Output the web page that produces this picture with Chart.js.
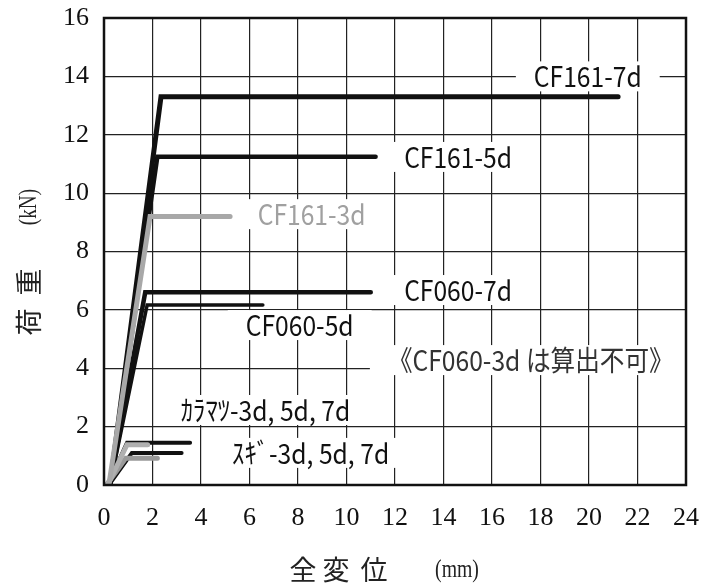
<!DOCTYPE html>
<html><head><meta charset="utf-8">
<script src="https://cdn.jsdelivr.net/npm/chart.js@4"></script>
<style>html,body{margin:0;padding:0;background:#fff}#wrap{width:702px;height:587px}</style>
</head><body><div id="wrap"><canvas id="c" width="702" height="587"></canvas></div>
<script>
// axis ticks
const xTicks = [0,2,4,6,8,10,12,14,16,18,20,22,24];
const yTicks = [0,2,4,6,8,10,12,14,16];
const xTitleParts = ['全','変','位','(mm)'];
const yTitleParts = ['荷','重','(kN)'];
// series: displacement (mm) / load (kN)
const cf161_7d_x = [0.25, 2.35, 21.2]; const cf161_7d_y = [0, 13.3, 13.3];
const cf161_5d_x = [0.25, 2.2, 11.2];  const cf161_5d_y = [0, 11.25, 11.25];
const cf161_3d_x = [0.2, 1.9, 5.2];    const cf161_3d_y = [0, 9.2, 9.2];
const cf060_7d_x = [0.25, 1.7, 11.0];  const cf060_7d_y = [0, 6.6, 6.6];
const cf060_5d_x = [0.25, 1.78, 6.55]; const cf060_5d_y = [0, 6.17, 6.17];
const larch_x = [0.15, 0.95, 3.55];    const larch_y = [0, 1.45, 1.45];
const larchG_x = [0.15, 0.95, 1.8];    const larchG_y = [0, 1.38, 1.38];
const sugi_x = [0.2, 1.15, 3.2];       const sugi_y = [0, 1.1, 1.1];
const sugiG_x = [0.1, 0.9, 2.2];       const sugiG_y = [0, 0.92, 0.92];
// annotation labels
const labelText = ["CF161-7d","CF161-5d","CF161-3d","CF060-7d","CF060-5d","《CF060-3d は算出不可》","ｶﾗﾏﾂ-3d, 5d, 7d","ｽｷﾞ-3d, 5d, 7d"];
const labelX = [19.95, 14.6, 8.56, 14.6, 8.07, 17.6, 6.66, 8.52];
const labelY = [14.0, 11.24, 9.28, 6.68, 5.48, 4.28, 2.57, 1.1];
const labelGrey = [false,false,true,false,false,false,false,false];

function pts(xs, ys){ return xs.map((x,i)=>({x:x, y:ys[i]})); }
function ds(xs, ys, color, w){ return {data:pts(xs,ys), showLine:true, borderColor:color, backgroundColor:color, borderWidth:w, pointRadius:0, borderCapStyle:'round', borderJoinStyle:'miter', tension:0}; }

const SX = 0.88;
const labelFont = '28px "Noto Sans CJK JP", sans-serif';
const cjkFont = '27px "Noto Sans CJK JP", sans-serif';
const latFont = '26px "Liberation Serif", serif';
const labelPlugin = {
  id:'labels',
  beforeDatasetsDraw(chart){
    const ctx = chart.ctx, xs = chart.scales.x, ys = chart.scales.y;
    ctx.save();
    ctx.font = labelFont;
    labelText.forEach((t,i)=>{
      const px = xs.getPixelForValue(labelX[i]), py = ys.getPixelForValue(labelY[i]);
      const w = ctx.measureText(t).width * SX;
      ctx.fillStyle='#fff';
      ctx.fillRect(px - w/2 - 18, py - 15, w + 36, 30);
    });
    ctx.restore();
  },
  afterDatasetsDraw(chart){
    const ctx = chart.ctx, xs = chart.scales.x, ys = chart.scales.y;
    ctx.save();
    ctx.font = labelFont;
    ctx.textAlign='center'; ctx.textBaseline='middle';
    labelText.forEach((t,i)=>{
      const px = xs.getPixelForValue(labelX[i]), py = ys.getPixelForValue(labelY[i]);
      ctx.fillStyle = labelGrey[i] ? '#a0a0a0' : (i===5 ? '#333' : '#111');
      ctx.save(); ctx.translate(px, py); ctx.scale(SX, 1);
      ctx.fillText(t, 0, 0);
      ctx.restore();
    });
    // frame
    const a = chart.chartArea;
    ctx.strokeStyle='#111'; ctx.lineWidth=2.5;
    ctx.strokeRect(a.left, a.top, a.right-a.left, a.bottom-a.top);
    // axis titles
    ctx.fillStyle='#222';
    ctx.textAlign='center'; ctx.textBaseline='middle';
    const xPos = [303, 336, 374, 457];
    xTitleParts.forEach((t,i)=>{
      ctx.save(); ctx.translate(xPos[i], 570);
      if (i<3) { ctx.font = cjkFont; } else { ctx.font = latFont; ctx.scale(0.76, 1); }
      ctx.fillText(t, 0, 0); ctx.restore();
    });
    const yPos = [322, 282, 207];
    yTitleParts.forEach((t,i)=>{
      ctx.save(); ctx.translate(29, yPos[i]); ctx.rotate(-Math.PI/2);
      if (i<2) { ctx.font = cjkFont; } else { ctx.font = latFont; ctx.scale(0.74, 1); }
      ctx.fillText(t, 0, 0); ctx.restore();
    });
    ctx.restore();
  }
};

function noPad(s){ s.paddingTop = 0; s.paddingBottom = 0; s.paddingLeft = 0; s.paddingRight = 0; }

new Chart(document.getElementById('c'), {
  type:'scatter',
  data:{datasets:[
    ds(cf161_3d_x, cf161_3d_y, '#a8a8a8', 5),
    ds(larchG_x, larchG_y, '#b0b0b0', 5),
    ds(sugiG_x, sugiG_y, '#999', 5),
    ds(cf161_7d_x, cf161_7d_y, '#111', 5),
    ds(cf161_5d_x, cf161_5d_y, '#111', 4.5),
    ds(cf060_7d_x, cf060_7d_y, '#111', 4.5),
    ds(cf060_5d_x, cf060_5d_y, '#111', 3.5),
    ds(larch_x, larch_y, '#111', 4),
    ds(sugi_x, sugi_y, '#111', 4)
  ]},
  options:{
    responsive:false, animation:false,
    layout:{padding:{left:0, right:16, top:18, bottom:0}},
    plugins:{legend:{display:false}, tooltip:{enabled:false}},
    scales:{
      x:{type:'linear', min:0, max:24,
        afterBuildTicks(s){ s.ticks = xTicks.map(v=>({value:v})); },
        afterFit(s){ s.height = 102; noPad(s); },
        grid:{color:'#222', lineWidth:1.2, drawTicks:false},
        border:{display:false},
        ticks:{padding:18, color:'#111', font:{family:'"Liberation Serif", serif', size:26}, maxRotation:0},
        title:{display:false}
      },
      y:{type:'linear', min:0, max:16,
        afterBuildTicks(s){ s.ticks = yTicks.map(v=>({value:v})); },
        afterFit(s){ s.width = 104; noPad(s); },
        grid:{color:'#222', lineWidth:1.2, drawTicks:false},
        border:{display:false},
        ticks:{padding:15, color:'#111', font:{family:'"Liberation Serif", serif', size:26}},
        title:{display:false}
      }
    }
  },
  plugins:[labelPlugin]
});
</script>
</body></html>
